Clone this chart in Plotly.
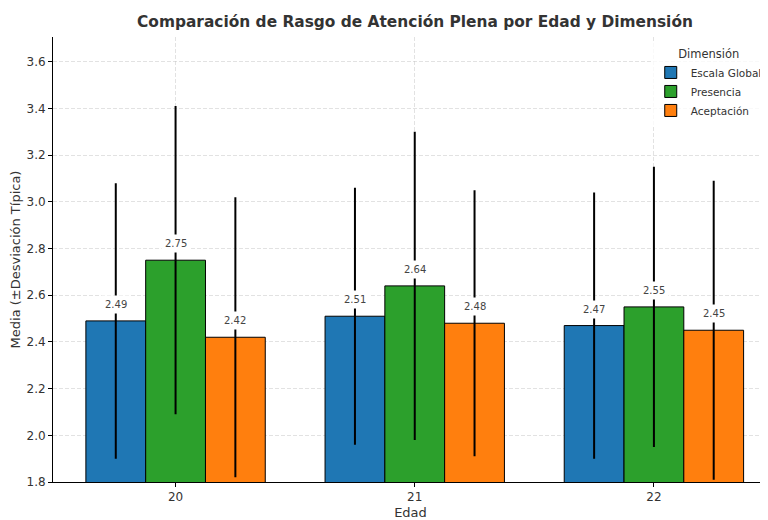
import plotly.graph_objects as go

edades = [20, 21, 22]
edad_labels = ["20", "21", "22"]
dimensiones = ["Escala Global", "Presencia", "Aceptación"]
colores = ["#1f77b4", "#2ca02c", "#ff7f0e"]
media_global = [2.49, 2.51, 2.47]
media_presencia = [2.75, 2.64, 2.55]
media_aceptacion = [2.42, 2.48, 2.45]
sd_global = [0.59, 0.55, 0.57]
sd_presencia = [0.66, 0.66, 0.60]
sd_aceptacion = [0.60, 0.57, 0.64]

medias = [media_global, media_presencia, media_aceptacion]
sds = [sd_global, sd_presencia, sd_aceptacion]

FONT = "DejaVu Sans"
fig = go.Figure()
for i, dim in enumerate(dimensiones):
    fig.add_trace(go.Bar(
        x=edades, y=medias[i], name=dim,
        marker=dict(color=colores[i], line=dict(color="black", width=1)),
        error_y=dict(type="data", array=sds[i], symmetric=True,
                     color="black", thickness=2, width=0),
    ))
    offset = (i - 1) * 0.25
    for x, m in zip(edades, medias[i]):
        fig.add_annotation(
            x=x + offset, y=m, text=f"{m:.2f}", showarrow=False,
            yanchor="bottom", yshift=7, bgcolor="white", borderpad=3,
            font=dict(family=FONT, size=10, color="#444"))

fig.update_layout(
    width=760, height=512,
    margin=dict(l=45, r=0, t=29, b=38, autoexpand=False),
    paper_bgcolor="white", plot_bgcolor="white",
    barmode="group", bargap=0.25, bargroupgap=0,
    font=dict(family=FONT, color="#333"),
    title=dict(text="Comparación de Rasgo de Atención Plena por Edad y Dimensión",
               x=0.5355, xanchor="center", y=0.973, yanchor="middle",
               font=dict(family=FONT, size=15.4, color="#333", weight="bold")),
    legend=dict(title=dict(text="Dimensión", side="top center", font=dict(size=11.5, color="#333")),
                x=0.836, xanchor="left", y=0.9865, yanchor="top",
                bgcolor="rgba(255,255,255,0.8)", font=dict(size=10.5, color="#333"),
                tracegroupgap=0, itemwidth=30),
    showlegend=True,
)
fig.update_xaxes(
    range=[19.4875, 22.477], tickvals=edades, ticktext=edad_labels, automargin=False,
    showline=True, linecolor="black", linewidth=1, mirror=False,
    ticks="outside", ticklen=4, tickcolor="black",
    tickfont=dict(size=12, color="#333"),
    title=dict(text="Edad", font=dict(size=13, color="#333"), standoff=4),
    showgrid=True, gridcolor="rgba(190,190,190,0.45)", griddash="4px,2px", gridwidth=1,
    layer="above traces", zeroline=False)
fig.update_yaxes(
    range=[1.8, 3.706], tickvals=[1.8, 2.0, 2.2, 2.4, 2.6, 2.8, 3.0, 3.2, 3.4, 3.6],
    tickformat=".1f", automargin=False,
    showline=True, linecolor="black", linewidth=1,
    ticks="outside", ticklen=4, tickcolor="black",
    tickfont=dict(size=12, color="#333"),
    title=dict(text="Media (±Desviación Típica)", font=dict(size=13, color="#333"), standoff=6),
    showgrid=True, gridcolor="rgba(190,190,190,0.45)", griddash="4px,2px", gridwidth=1,
    layer="above traces", zeroline=False)

fig.write_html("out.html")
